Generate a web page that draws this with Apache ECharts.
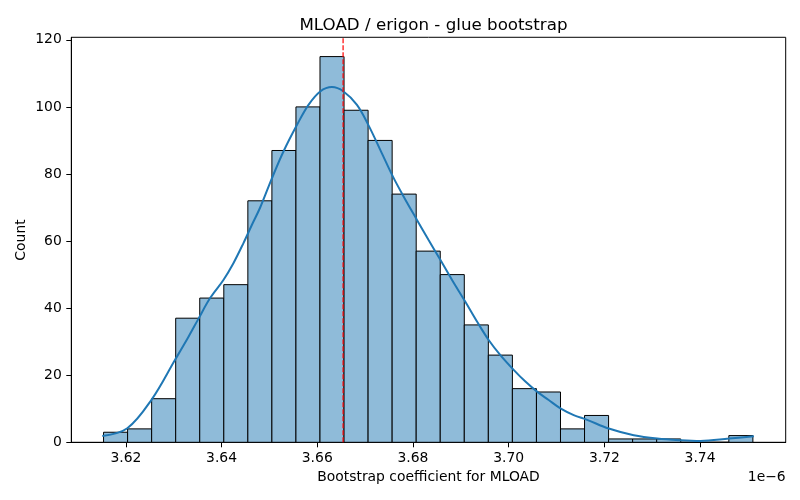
<!DOCTYPE html>
<html>
<head>
<meta charset="utf-8">
<title>MLOAD / erigon - glue bootstrap</title>
<script src="https://cdn.jsdelivr.net/npm/echarts@6/dist/echarts.min.js"></script>
<style>
  html, body { margin: 0; padding: 0; background: #fff; }
  #chart { width: 800px; height: 500px; }
</style>
</head>
<body>
<div id="chart"></div>
<script>
// histogram of the bootstrap coefficient (x in units of 1e-6)
var binStart = 3.61534
var binWidth = 0.005026
var counts = [3, 4, 13, 37, 43, 47, 72, 87, 100, 115, 99, 90, 74, 57, 50,
              35, 26, 16, 15, 4, 8, 1, 1, 1, 0, 0, 2]

// kde curve
var kdeX = [3.61508, 3.62031, 3.62542, 3.63029, 3.63307, 3.63516, 3.63761, 3.64039,
            3.64248, 3.64458, 3.64633, 3.64807, 3.65052, 3.65294, 3.65575, 3.65817,
            3.66062, 3.66307, 3.66549, 3.66830, 3.67072, 3.67317, 3.67582, 3.67804,
            3.68084, 3.68327, 3.68572, 3.68817, 3.69095, 3.69339, 3.69582, 3.69827,
            3.70105, 3.70350, 3.70594, 3.70837, 3.71082, 3.71360, 3.71640, 3.72092,
            3.72615, 3.73104, 3.73592, 3.74010, 3.74602, 3.75125]
var kdeY = [1.9, 4.2, 12.8, 24.6, 31.4, 36.8, 43.0, 48.4,
            53.4, 59.4, 64.8, 70.0, 78.7, 86.7, 94.6, 100.6,
            104.6, 105.9, 104.6, 100.6, 94.5, 87.2, 79.2, 73.3,
            66.3, 60.3, 54.4, 48.4, 41.9, 36.0, 30.5, 26.0,
            21.6, 18.1, 15.1, 12.6, 10.1, 8.1, 6.7, 4.1,
            2.1, 1.1, 0.6, 0.4, 1.1, 1.8]

var meanValue = 3.6654

var xTicks = [3.62, 3.64, 3.66, 3.68, 3.70, 3.72, 3.74]
var yTicks = [0, 20, 40, 60, 80, 100, 120]
var xMin = 3.6086, xMax = 3.7579
var yMin = 0, yMax = 120.75

var fontFam = 'DejaVu Sans'

var histData = counts.map(function (c, i) {
    return [binStart + i * binWidth, binStart + (i + 1) * binWidth, c]
})
var kdeData = kdeX.map(function (x, i) { return [x, kdeY[i]] })
var meanData = [[meanValue, yMin], [meanValue, yMax]]

// one rectangle per bin, placed through the axes
function renderBin(params, api) {
    var p0 = api.coord([api.value(0), api.value(2)])
    var p1 = api.coord([api.value(1), 0])
    return {
        type: 'rect',
        shape: { x: p0[0], y: p0[1], width: p1[0] - p0[0], height: p1[1] - p0[1] },
        style: { fill: '#8fbbd9', stroke: '#000', lineWidth: 1 }
    }
}

var mychart = echarts.init(document.getElementById('chart'))
var option = {
    animation: false,
    backgroundColor: '#fff',
    textStyle: { fontFamily: fontFam },
    title: {
        text: 'MLOAD / erigon - glue bootstrap',
        left: 428.5,
        top: 12,
        textAlign: 'center',
        textStyle: { fontFamily: fontFam, fontSize: 16.7, fontWeight: 'normal', color: '#000' }
    },
    grid: {
        left: 71.3, right: 14.3, top: 37.3, bottom: 57.7,
        show: true, borderColor: '#000', borderWidth: 1, backgroundColor: 'transparent'
    },
    xAxis: {
        type: 'value',
        min: xMin,
        max: xMax,
        axisLine: { show: true, onZero: false, lineStyle: { color: '#000', width: 1 } },
        axisTick: { show: true, length: 5, lineStyle: { color: '#000' }, customValues: xTicks },
        axisLabel: {
            customValues: xTicks,
            margin: 9.5,
            color: '#000',
            fontSize: 13.9,
            fontFamily: fontFam,
            formatter: function (v) { return v.toFixed(2) }
        },
        splitLine: { show: false }
    },
    yAxis: {
        type: 'value',
        min: yMin,
        max: yMax,
        axisLine: { show: true, lineStyle: { color: '#000', width: 1 } },
        axisTick: { show: true, length: 5, lineStyle: { color: '#000' }, customValues: yTicks },
        axisLabel: {
            customValues: yTicks,
            margin: 9.5,
            color: '#000',
            fontSize: 13.9,
            fontFamily: fontFam
        },
        splitLine: { show: false }
    },
    graphic: [
        {
            type: 'text', x: 428.5, y: 477,
            style: { text: 'Bootstrap coefficient for MLOAD', fill: '#000', font: '13.9px "DejaVu Sans"',
                     align: 'center', verticalAlign: 'middle' }
        },
        {
            type: 'text', x: 785.7, y: 477,
            style: { text: '1e\u22126', fill: '#000', font: '13.9px "DejaVu Sans"',
                     align: 'right', verticalAlign: 'middle' }
        },
        {
            type: 'text', x: 14, y: 240, rotation: Math.PI / 2,
            style: { text: 'Count', fill: '#000', font: '13.9px "DejaVu Sans"', align: 'center', verticalAlign: 'top' }
        }
    ],
    series: [
        {
            type: 'custom',
            renderItem: renderBin,
            encode: { x: [0, 1], y: 2 },
            data: histData,
            z: 2
        },
        {
            type: 'line',
            data: kdeData,
            smooth: 0.35,
            showSymbol: false,
            lineStyle: { color: '#1f77b4', width: 2 },
            z: 3
        },
        {
            // dashed line at the mean
            type: 'line',
            data: meanData,
            showSymbol: false,
            itemStyle: { color: '#ff0000' },
            lineStyle: { color: '#ff0000', width: 1.2, type: [5, 2] },
            z: 10
        }
    ]
}
option && mychart.setOption(option)
</script>
</body>
</html>
